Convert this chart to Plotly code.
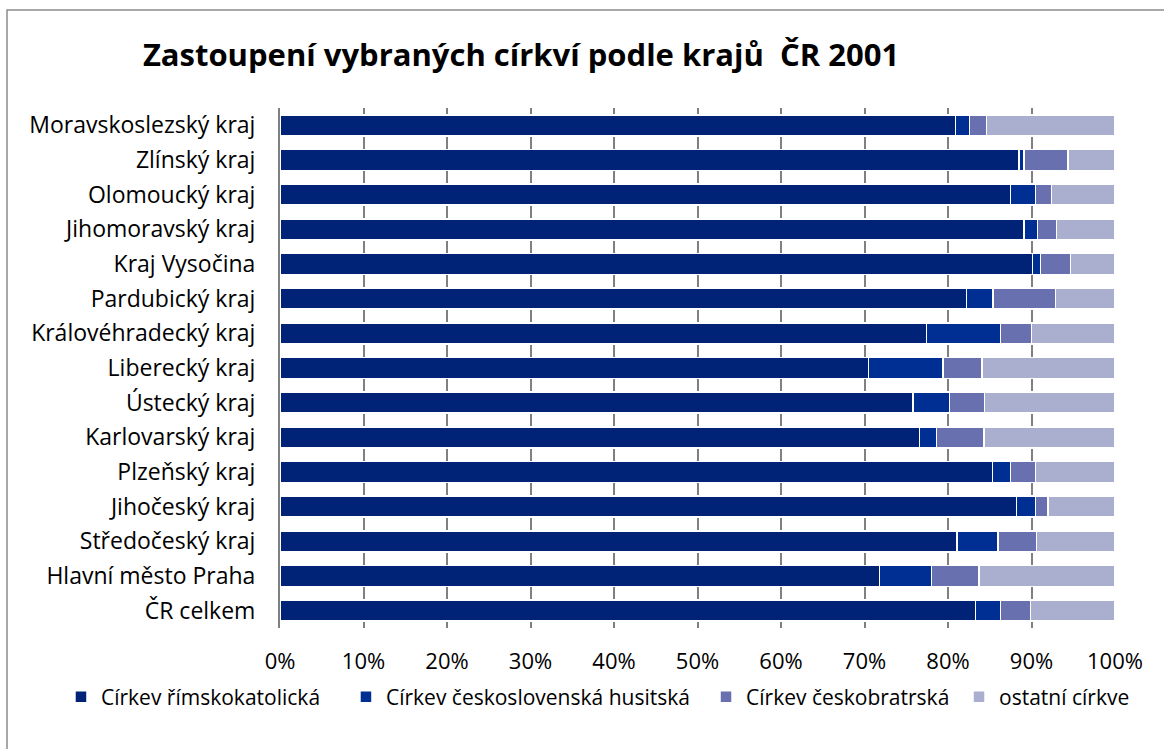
import plotly.graph_objects as go

regions = ["ČR celkem", "Hlavní město Praha", "Středočeský kraj", "Jihočeský kraj",
           "Plzeňský kraj", "Karlovarský kraj", "Ústecký kraj", "Liberecký kraj",
           "Královéhradecký kraj", "Pardubický kraj", "Kraj Vysočina",
           "Jihomoravský kraj", "Olomoucký kraj", "Zlínský kraj", "Moravskoslezský kraj"]

rimskokatolicka = [83.3, 71.8, 81.1, 88.2, 85.3, 76.6, 75.8, 70.5, 77.4, 82.2, 90.1, 89.1, 87.5, 88.5, 80.9]
husitska =        [3.0, 6.2, 4.9, 2.3, 2.2, 2.0, 4.4, 8.9, 8.9, 3.2, 1.0, 1.6, 3.0, 0.6, 1.7]
ceskobratrska =   [3.6, 5.7, 4.6, 1.5, 3.0, 5.7, 4.2, 4.7, 3.7, 7.5, 3.6, 2.3, 1.9, 5.3, 2.0]
ostatni =         [10.1, 16.3, 9.4, 8.0, 9.5, 15.7, 15.6, 15.9, 10.0, 7.1, 5.3, 7.0, 7.6, 5.6, 15.4]

series_names = ["Církev římskokatolická", "Církev československá husitská",
                "Církev českobratrská", "ostatní církve"]
series_values = [rimskokatolicka, husitska, ceskobratrska, ostatni]
colors = ["#002378", "#002f93", "#6870b0", "#abafcf"]

tick_vals = [0, 10, 20, 30, 40, 50, 60, 70, 80, 90, 100]
tick_text = [f"{v}%" for v in tick_vals]

FONT = "Open Sans"
legend_ids = ["legend", "legend2", "legend3", "legend4"]
legend_x = [-0.2623, 0.0790, 0.5102, 0.8132]

fig = go.Figure()
for name, vals, col, lid in zip(series_names, series_values, colors, legend_ids):
    fig.add_trace(go.Bar(
        y=regions, x=vals, name=name, orientation="h", legend=lid,
        marker=dict(color=col, line=dict(color="white", width=1.5)),
    ))

legend_common = dict(orientation="h", y=-0.1327, yanchor="middle", xanchor="left",
                     font=dict(family=FONT, size=21, color="black"),
                     itemwidth=30, bgcolor="rgba(0,0,0,0)")

fig.update_layout(
    width=1164, height=749,
    barmode="stack", bargap=0.39,
    paper_bgcolor="white", plot_bgcolor="white",
    margin=dict(l=280, r=49, t=108, b=121, autoexpand=False),
    font=dict(family=FONT, size=20, color="black"),
    title=dict(text="Zastoupení vybraných církví podle krajů\u00a0\u00a0ČR 2001",
               font=dict(family=FONT, size=31, color="black", weight="bold"),
               x=521 / 1164, xanchor="center", xref="container",
               y=1 - 55 / 749, yanchor="middle", yref="container"),
    showlegend=True,
    legend=dict(x=legend_x[0], **legend_common),
    legend2=dict(x=legend_x[1], **legend_common),
    legend3=dict(x=legend_x[2], **legend_common),
    legend4=dict(x=legend_x[3], **legend_common),
    xaxis=dict(range=[0, 100], tickvals=tick_vals, ticktext=tick_text,
               showgrid=True, gridcolor="#808080", gridwidth=2,
               zeroline=False, showline=False, ticks="",
               tickfont=dict(family=FONT, size=22), ticklabelstandoff=18),
    yaxis=dict(categoryorder="array", categoryarray=regions,
               showgrid=False, showline=True, linecolor="#808080", linewidth=2,
               ticks="", tickfont=dict(family=FONT, size=23),
               ticklabelstandoff=18),
    shapes=[dict(type="rect", xref="paper", yref="paper",
                 x0=(7 - 280) / 835, x1=(1200 - 280) / 835,
                 y0=-0.5, y1=1 + (108 - 10) / 520,
                 line=dict(color="#8c8c8c", width=1.5), fillcolor="rgba(0,0,0,0)",
                 layer="below")],
)

fig.write_html("out.html", config={"displayModeBar": False},
               post_script="document.body.style.margin='0';")
